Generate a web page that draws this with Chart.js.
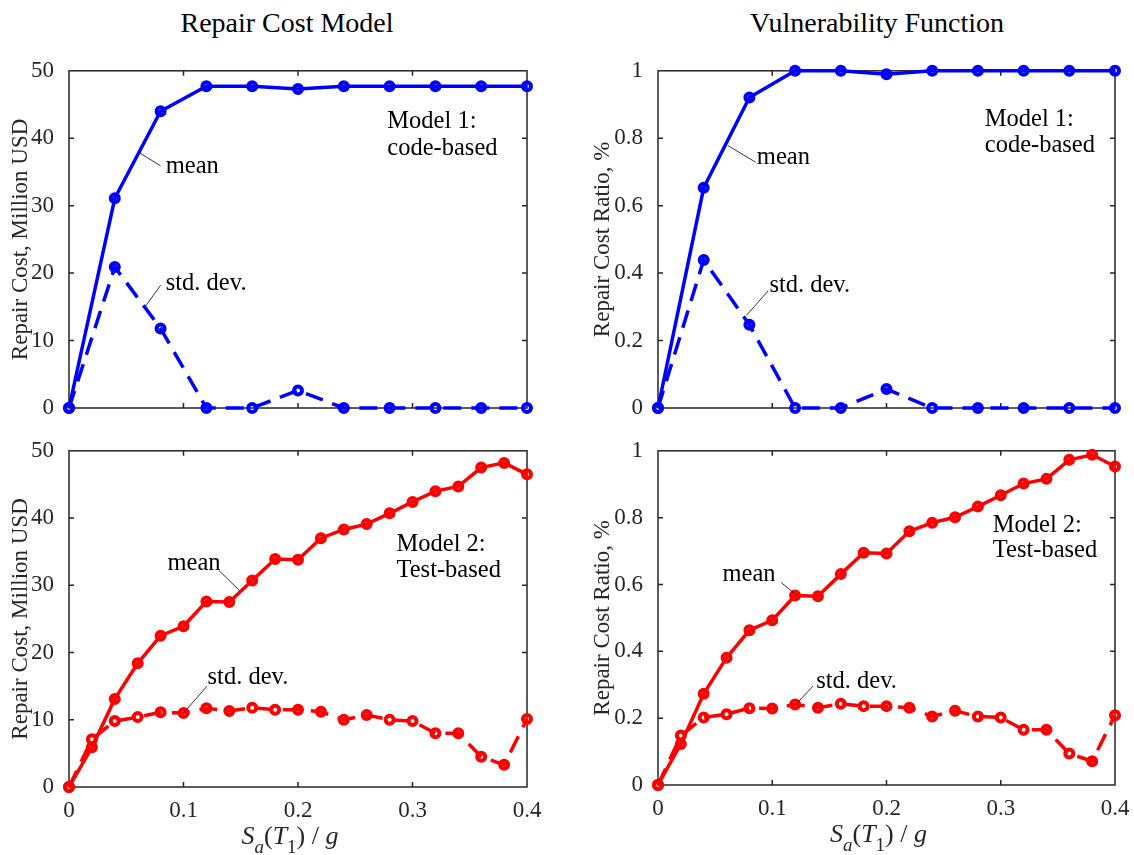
<!DOCTYPE html>
<html>
<head>
<meta charset="utf-8">
<script src="https://cdn.jsdelivr.net/npm/chart.js@4.4.1/dist/chart.umd.min.js"></script>
<style>
  html, body { margin: 0; padding: 0; background: #ffffff; }
  #wrap { position: relative; width: 1134px; height: 855px; overflow: hidden; background: #ffffff;
          font-family: "Liberation Serif", "Times New Roman", serif; }
  .col-title { position: absolute; top: 9px; font-size: 28px; line-height: 28px; color: #000;
               white-space: nowrap; transform: translateX(-50%); }
  canvas { position: absolute; display: block; }
</style>
</head>
<body>
<div id="wrap">
  <div class="col-title" style="left:287px">Repair Cost Model</div>
  <div class="col-title" style="left:877px">Vulnerability Function</div>
  <canvas id="p1" width="560" height="380" style="left:0px;top:50px"></canvas>
  <canvas id="p2" width="564" height="380" style="left:570px;top:50px"></canvas>
  <canvas id="p3" width="560" height="425" style="left:0px;top:430px"></canvas>
  <canvas id="p4" width="564" height="425" style="left:570px;top:430px"></canvas>
</div>
<script>
// Intensity levels, Sa(T1)/g
const saModel1 = [0, 0.04, 0.08, 0.12, 0.16, 0.20, 0.24, 0.28, 0.32, 0.36, 0.40];
const saModel2 = [0, 0.02, 0.04, 0.06, 0.08, 0.10, 0.12, 0.14, 0.16, 0.18, 0.20,
                  0.22, 0.24, 0.26, 0.28, 0.30, 0.32, 0.34, 0.36, 0.38, 0.40];

// Model 1 (code-based): repair cost, million USD
const costMeanModel1 = [0, 31.1, 44.0, 47.7, 47.7, 47.3, 47.7, 47.7, 47.7, 47.7, 47.7];
const costStdModel1  = [0, 20.9, 11.8, 0, 0, 2.6, 0, 0, 0, 0, 0];
// Model 1: repair cost ratio
const ratioMeanModel1 = [0, 0.653, 0.921, 1.0, 1.0, 0.990, 1.0, 1.0, 1.0, 1.0, 1.0];
const ratioStdModel1  = [0, 0.439, 0.247, 0, 0, 0.056, 0, 0, 0, 0, 0];

// Model 2 (test-based): repair cost, million USD
const costMeanModel2 = [0, 5.9, 13.1, 18.4, 22.5, 23.9, 27.6, 27.5, 30.7, 33.9, 33.8,
                        37.0, 38.3, 39.1, 40.7, 42.4, 44.0, 44.7, 47.5, 48.2, 46.5];
const costStdModel2  = [0, 7.1, 9.8, 10.4, 11.1, 11.0, 11.7, 11.3, 11.8, 11.5, 11.5,
                        11.2, 10.0, 10.7, 10.0, 9.8, 8.0, 8.0, 4.5, 3.3, 10.1];
// Model 2: repair cost ratio
const ratioMeanModel2 = [0, 0.123, 0.273, 0.381, 0.463, 0.493, 0.567, 0.565, 0.631, 0.695, 0.693,
                         0.759, 0.785, 0.801, 0.833, 0.867, 0.902, 0.916, 0.973, 0.988, 0.953];
const ratioStdModel2  = [0, 0.148, 0.202, 0.212, 0.230, 0.229, 0.241, 0.231, 0.243, 0.236, 0.236,
                         0.231, 0.205, 0.222, 0.205, 0.202, 0.165, 0.165, 0.094, 0.071, 0.209];

// Tick values
const xTicks = [0, 0.1, 0.2, 0.3, 0.4];
const costTicks = [0, 10, 20, 30, 40, 50];
const ratioTicks = [0, 0.2, 0.4, 0.6, 0.8, 1];

const FONT = '"Liberation Serif", "Times New Roman", serif';
const AXIS_INK = '#262626';

// Box around the plot area with inward tick marks on all four sides
const framePlugin = {
  id: 'frame',
  beforeDatasetsDraw(chart) {
    const { ctx, chartArea: a, scales: { x, y } } = chart;
    const len = 5;
    ctx.save();
    ctx.strokeStyle = AXIS_INK;
    ctx.lineWidth = 1.5;
    ctx.beginPath();
    x.ticks.forEach(t => {
      const px = x.getPixelForValue(t.value);
      if (px <= a.left + 1 || px >= a.right - 1) return;
      ctx.moveTo(px, a.bottom); ctx.lineTo(px, a.bottom - len);
      ctx.moveTo(px, a.top); ctx.lineTo(px, a.top + len);
    });
    y.ticks.forEach(t => {
      const py = y.getPixelForValue(t.value);
      if (py <= a.top + 1 || py >= a.bottom - 1) return;
      ctx.moveTo(a.left, py); ctx.lineTo(a.left + len, py);
      ctx.moveTo(a.right, py); ctx.lineTo(a.right - len, py);
    });
    ctx.stroke();
    ctx.strokeRect(a.left, a.top, a.right - a.left, a.bottom - a.top);
    ctx.restore();
  }
};

// Text notes and leader lines placed in data coordinates
const notesPlugin = {
  id: 'notes',
  afterDatasetsDraw(chart, args, opts) {
    const { ctx, scales: { x, y } } = chart;
    ctx.save();
    ctx.fillStyle = '#000';
    ctx.font = '24.5px ' + FONT;
    ctx.textAlign = 'left';
    ctx.textBaseline = 'middle';
    (opts.texts || []).forEach(n => {
      ctx.fillText(n.text, x.getPixelForValue(n.x), y.getPixelForValue(n.y));
    });
    ctx.strokeStyle = '#000';
    ctx.lineWidth = 0.8;
    (opts.leaders || []).forEach(l => {
      ctx.beginPath();
      ctx.moveTo(x.getPixelForValue(l[0][0]), y.getPixelForValue(l[0][1]));
      ctx.lineTo(x.getPixelForValue(l[1][0]), y.getPixelForValue(l[1][1]));
      ctx.stroke();
    });
    ctx.restore();
  }
};

// x-axis title S_a(T_1) / g with italic symbols and subscripts
const saTitlePlugin = {
  id: 'saTitle',
  afterDraw(chart, args, opts) {
    if (!opts.show) return;
    const { ctx, chartArea: a } = chart;
    const big = 26, small = 19;
    const parts = [
      { t: 'S', f: `italic ${big}px ${FONT}`, dy: 0 },
      { t: 'a', f: `italic ${small}px ${FONT}`, dy: 9 },
      { t: '(', f: `${big}px ${FONT}`, dy: 0 },
      { t: 'T', f: `italic ${big}px ${FONT}`, dy: 0 },
      { t: '1', f: `${small}px ${FONT}`, dy: 9 },
      { t: ') / ', f: `${big}px ${FONT}`, dy: 0 },
      { t: 'g', f: `italic ${big}px ${FONT}`, dy: 0 }
    ];
    ctx.save();
    ctx.fillStyle = AXIS_INK;
    ctx.textBaseline = 'alphabetic';
    ctx.textAlign = 'left';
    let total = 0;
    parts.forEach(p => { ctx.font = p.f; p.w = ctx.measureText(p.t).width; total += p.w; });
    let cx = (a.left + a.right) / 2 + opts.dx - total / 2;
    const base = a.bottom + opts.dy;
    parts.forEach(p => { ctx.font = p.f; ctx.fillText(p.t, cx, base + p.dy); cx += p.w; });
    ctx.restore();
  }
};

function points(xs, ys) { return xs.map((v, i) => ({ x: v, y: ys[i] })); }

function makePanel(id, cfg) {
  const lineBase = {
    borderColor: cfg.color,
    pointBorderColor: cfg.color,
    pointBackgroundColor: 'rgba(0,0,0,0)',
    pointRadius: 4,
    pointBorderWidth: 4,
    pointHoverRadius: 4,
    borderWidth: 3.5,
    tension: 0,
    fill: false,
    clip: false,
    borderCapStyle: 'butt',
    borderJoinStyle: 'miter'
  };
  return new Chart(document.getElementById(id), {
    type: 'line',
    data: {
      datasets: [
        Object.assign({ label: 'mean', data: points(cfg.xs, cfg.mean) }, lineBase),
        Object.assign({ label: 'std. dev.', data: points(cfg.xs, cfg.std), borderDash: [18, 10] }, lineBase)
      ]
    },
    options: {
      responsive: false,
      animation: false,
      events: [],
      layout: { padding: cfg.padding },
      plugins: {
        legend: { display: false },
        tooltip: { enabled: false },
        notes: cfg.notes,
        saTitle: { show: cfg.showX, dx: -8, dy: 57 }
      },
      scales: {
        x: {
          type: 'linear', min: 0, max: 0.4,
          grid: { display: false }, border: { display: false },
          afterBuildTicks: s => { s.ticks = xTicks.map(v => ({ value: v })); },
          afterFit: s => { s.height = cfg.xHeight; },
          ticks: {
            display: cfg.showX, padding: 2, color: AXIS_INK, maxRotation: 0, autoSkip: false,
            font: { family: FONT, size: 23 }, callback: v => String(v)
          }
        },
        y: {
          type: 'linear', min: 0, max: cfg.yTicks[cfg.yTicks.length - 1],
          grid: { display: false }, border: { display: false },
          afterBuildTicks: s => { s.ticks = cfg.yTicks.map(v => ({ value: v })); },
          afterFit: s => { s.width = cfg.yWidth; },
          ticks: {
            padding: 7, color: AXIS_INK, autoSkip: false,
            font: { family: FONT, size: 23 }, callback: v => String(v)
          },
          title: {
            display: true, text: cfg.yTitle, color: AXIS_INK,
            font: { family: FONT, size: 23 }, padding: { top: cfg.yTitlePad, bottom: 0 }
          }
        }
      }
    },
    plugins: [framePlugin, notesPlugin, saTitlePlugin]
  });
}

const BLUE = '#0000ff';
const RED = '#ff0000';

makePanel('p1', {
  xs: saModel1, mean: costMeanModel1, std: costStdModel1, color: BLUE,
  yTicks: costTicks, yTitle: 'Repair Cost, Million USD', yWidth: 69, yTitlePad: 7,
  showX: false, xHeight: 0, padding: { left: 0, top: 20, right: 33, bottom: 22 },
  notes: {
    texts: [
      { text: 'Model 1:', x: 0.278, y: 42.5 },
      { text: 'code-based', x: 0.278, y: 38.5 },
      { text: 'mean', x: 0.0845, y: 35.8 },
      { text: 'std. dev.', x: 0.0845, y: 18.5 }
    ],
    leaders: [[[0.061, 37.9], [0.080, 35.9]], [[0.066, 14.9], [0.080, 18.2]]]
  }
});

makePanel('p2', {
  xs: saModel1, mean: ratioMeanModel1, std: ratioStdModel1, color: BLUE,
  yTicks: ratioTicks, yTitle: 'Repair Cost Ratio, %', yWidth: 88, yTitlePad: 19,
  showX: false, xHeight: 0, padding: { left: 0, top: 20, right: 19, bottom: 22 },
  notes: {
    texts: [
      { text: 'Model 1:', x: 0.286, y: 0.855 },
      { text: 'code-based', x: 0.286, y: 0.778 },
      { text: 'mean', x: 0.0865, y: 0.743 },
      { text: 'std. dev.', x: 0.0975, y: 0.364 }
    ],
    leaders: [[[0.0613, 0.778], [0.0854, 0.729]], [[0.0775, 0.275], [0.0963, 0.347]]]
  }
});

makePanel('p3', {
  xs: saModel2, mean: costMeanModel2, std: costStdModel2, color: RED,
  yTicks: costTicks, yTitle: 'Repair Cost, Million USD', yWidth: 69, yTitlePad: 7,
  showX: true, xHeight: 68, padding: { left: 0, top: 20, right: 33, bottom: 0 },
  notes: {
    texts: [
      { text: 'mean', x: 0.086, y: 33.3 },
      { text: 'Model 2:', x: 0.286, y: 36.05 },
      { text: 'Test-based', x: 0.286, y: 32.2 },
      { text: 'std. dev.', x: 0.121, y: 16.3 }
    ],
    leaders: [[[0.131, 32.2], [0.149, 29.2]], [[0.101, 11.2], [0.1205, 15.0]]]
  }
});

makePanel('p4', {
  xs: saModel2, mean: ratioMeanModel2, std: ratioStdModel2, color: RED,
  yTicks: ratioTicks, yTitle: 'Repair Cost Ratio, %', yWidth: 88, yTitlePad: 19,
  showX: true, xHeight: 70, padding: { left: 0, top: 17, right: 19, bottom: 0 },
  notes: {
    texts: [
      { text: 'mean', x: 0.0565, y: 0.631 },
      { text: 'Model 2:', x: 0.293, y: 0.776 },
      { text: 'Test-based', x: 0.293, y: 0.700 },
      { text: 'std. dev.', x: 0.1385, y: 0.311 }
    ],
    leaders: [[[0.1077, 0.606], [0.121, 0.569]], [[0.122, 0.246], [0.1357, 0.296]]]
  }
});
</script>
</body>
</html>
